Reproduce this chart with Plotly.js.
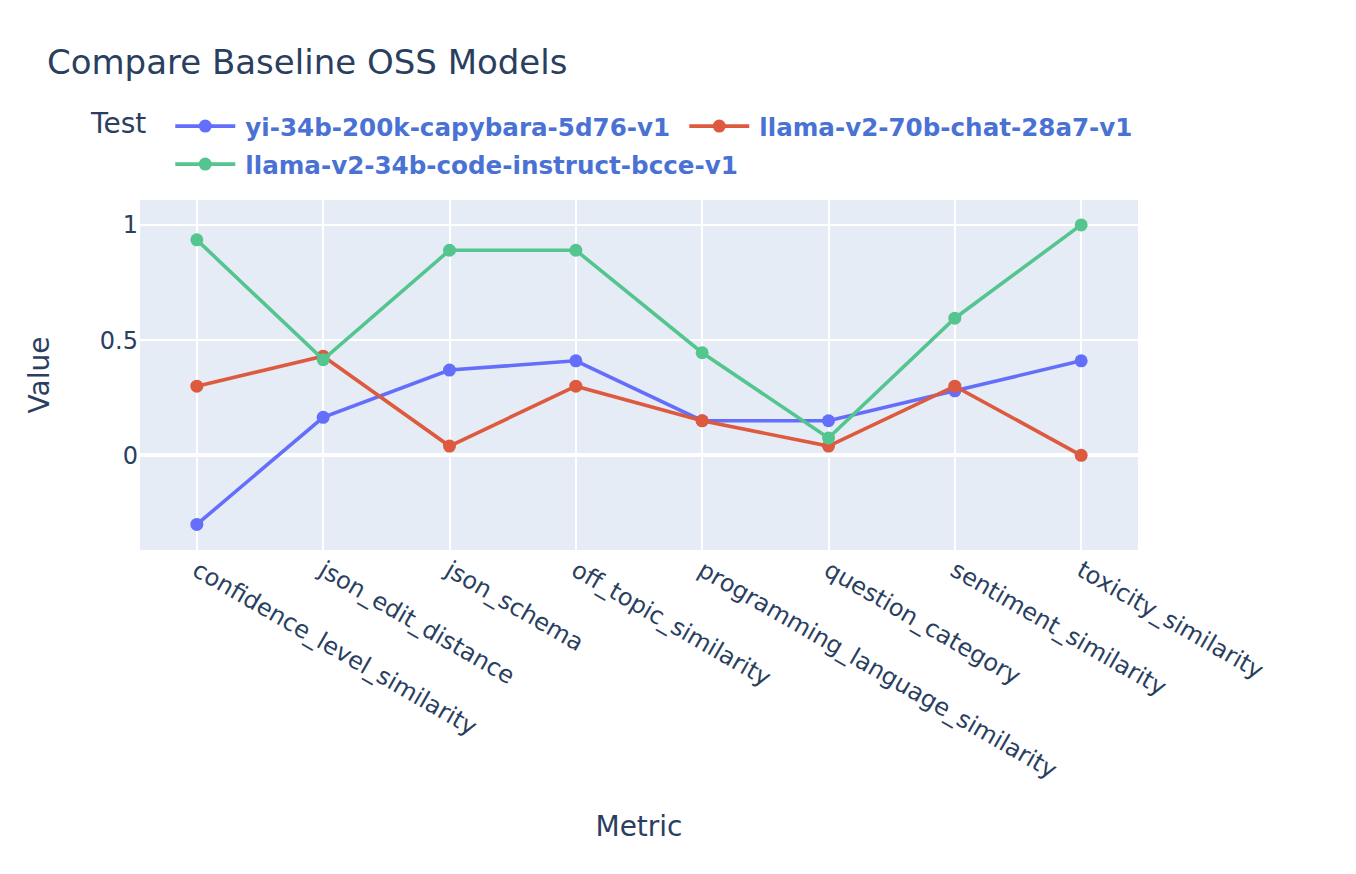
<!DOCTYPE html>
<html>
<head>
<meta charset="utf-8">
<script src="https://cdn.plot.ly/plotly-3.0.1.min.js"></script>
<style>
html,body{margin:0;padding:0;background:#fff;overflow:hidden;}
#wrap{width:1356px;height:874px;position:relative;}
#chart{width:678px;height:437px;transform:scale(2);transform-origin:0 0;position:absolute;left:0;top:0;}
</style>
</head>
<body>
<div id="wrap"><div id="chart"></div></div>
<script>
const metrics = ["confidence_level_similarity","json_edit_distance","json_schema","off_topic_similarity","programming_language_similarity","question_category","sentiment_similarity","toxicity_similarity"];
const seriesNames = ["yi-34b-200k-capybara-5d76-v1","llama-v2-70b-chat-28a7-v1","llama-v2-34b-code-instruct-bcce-v1"];
const yiValues = [-0.30, 0.165, 0.37, 0.41, 0.15, 0.15, 0.28, 0.41];
const llama70Values = [0.30, 0.43, 0.04, 0.30, 0.15, 0.04, 0.30, 0.0];
const codeValues = [0.935, 0.415, 0.89, 0.89, 0.445, 0.075, 0.595, 1.0];
const colors = ["#636efa", "#dd5a3e", "#55c58f"];
const allValues = [yiValues, llama70Values, codeValues];

const FONT = "'DejaVu Sans', Verdana, sans-serif";
const traces = allValues.map((v, i) => ({
  type: "scatter", mode: "lines+markers",
  x: metrics, y: v, name: seriesNames[i],
  line: {color: colors[i], width: 1.8},
  marker: {color: colors[i], size: 6.5}
}));

const layout = {
  width: 678, height: 437,
  font: {family: FONT, color: "#2a3f5f", size: 12},
  paper_bgcolor: "#fff", plot_bgcolor: "#e5ecf6",
  margin: {l: 70, r: 109, t: 100, b: 161.5, autoexpand: false},
  title: {text: "Compare Baseline OSS Models", x: 0.0346, xanchor: "left", y: 0.929, yanchor: "middle", font: {size: 17, family: FONT}},
  showlegend: true,
  legend: {
    orientation: "h", x: -0.053, xanchor: "left", y: 1.294, yanchor: "top",
    entrywidth: 212, entrywidthmode: "pixels",
    title: {text: "Test", font: {size: 14, color: "#2a3f5f", weight: "normal", family: FONT}},
    font: {size: 12.3, color: "#4a72d4", family: FONT, weight: "bold"},
    bgcolor: "rgba(0,0,0,0)"
  },
  xaxis: {
    type: "category", range: [-0.45, 7.45], tickangle: 30, automargin: false,
    gridcolor: "#fff", gridwidth: 1, ticks: "", showline: false, zeroline: false,
    tickfont: {size: 12},
    title: {text: "Metric", font: {size: 14}, standoff: 16.5}
  },
  yaxis: {
    range: [-0.411, 1.108], automargin: false,
    tickvals: [0, 0.5, 1], ticktext: ["0", "0.5", "1"],
    gridcolor: "#fff", gridwidth: 1, zerolinecolor: "#fff", zerolinewidth: 2,
    tickfont: {size: 12},
    title: {text: "Value", font: {size: 14}, standoff: 21}
  }
};
Plotly.newPlot("chart", traces, layout, {displayModeBar: false, responsive: false});
</script>
</body>
</html>
